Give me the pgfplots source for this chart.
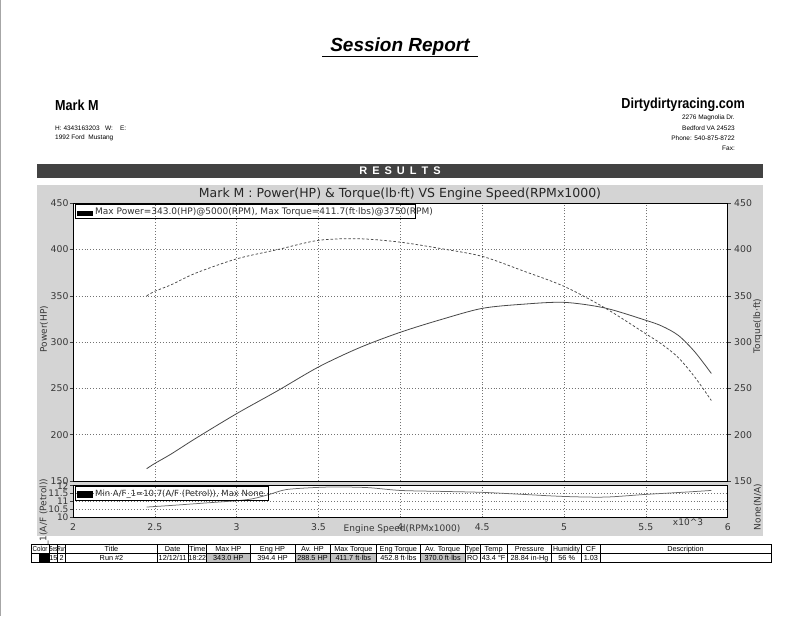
\documentclass[border=0pt]{standalone}
\usepackage{graphicx}
\usepackage{pgfplots}
\pgfplotsset{compat=1.18}
\usepackage{pgfplotstable}
\usepackage{fontspec}
\setmainfont{Liberation Sans}
\newfontfamily\dv{DejaVu Sans}
\newfontfamily\narrow[FakeStretch=0.87]{Liberation Sans}
\definecolor{panel}{RGB}{212,212,212}
\definecolor{resbar}{RGB}{66,66,66}
\definecolor{curve}{RGB}{72,72,72}
\definecolor{afcurve}{RGB}{105,105,105}
\definecolor{cellgray}{RGB}{192,192,192}
\definecolor{lab}{RGB}{55,55,55}

\pgfplotstableread{
rpm hp tq
2.45 163.3 350.0
2.50 169.0 355.0
2.60 179.2 362.0
2.75 196.1 374.6
3.00 222.8 390.0
3.25 247.5 400.0
3.50 273.2 410.0
3.75 294.0 411.7
4.00 310.7 408.0
4.25 324.5 401.0
4.50 336.5 392.7
4.75 341.0 377.0
5.00 343.0 360.3
5.25 336.9 337.0
5.50 323.6 309.0
5.60 317.2 297.5
5.70 307.1 283.0
5.80 289.3 262.0
5.90 266.2 237.0
}\dyno

\pgfplotstableread{
rpm af
2.45 10.65
2.60 10.75
2.80 10.90
3.00 11.05
3.10 11.18
3.20 11.45
3.30 11.75
3.45 11.87
3.60 11.92
3.80 11.88
4.00 11.70
4.25 11.64
4.50 11.58
4.75 11.45
5.00 11.32
5.25 11.28
5.50 11.45
5.75 11.60
5.90 11.70
}\afr

\pgfplotsset{dyno/.style={
  scale only axis, width=654.7pt, xmin=2, xmax=6,
  axis line style={black, line width=0.9pt},
  tick style={black!75, line width=0.5pt},
  tick align=outside, major tick length=3pt,
  major grid style={dash pattern=on 0.9pt off 2pt, black!55, line width=0.5pt},
  tick label style={font=\dv\fontsize{9.3}{9.5}\selectfont, text=lab},
  /pgf/number format/assume math mode=true,
}}

\begin{document}
\begin{tikzpicture}[x=1pt,y=-1pt]
\fill[white] (0,0) rectangle (800,616);
\draw[black!35, line width=0.8pt] (0.4,0) -- (0.4,616);
% header
\node[font=\fontsize{19}{19}\selectfont\bfseries\itshape] at (400,47) {Session Report};
\draw[line width=1.1pt] (322,56.5) -- (478,56.5);
\node[anchor=west, inner sep=0, font=\narrow\fontsize{14.5}{14.5}\selectfont\bfseries] at (55,105) {Mark M};
\node[anchor=west, inner sep=0, font=\fontsize{6.5}{6.5}\selectfont] at (55,128) {H:\ 4343163203\ \ \ W:\ \ \ \ E:};
\node[anchor=west, inner sep=0, font=\fontsize{6.5}{6.5}\selectfont] at (55,138) {1992 Ford\ \ Mustang};
\node[anchor=east, inner sep=0, font=\narrow\fontsize{14.5}{14.5}\selectfont\bfseries] at (745,105) {Dirtydirtyracing.com};
\node[anchor=east, inner sep=0, font=\fontsize{6.5}{6.5}\selectfont] at (735,118) {2276 Magnolia Dr.};
\node[anchor=east, inner sep=0, font=\fontsize{6.5}{6.5}\selectfont] at (735,128) {Bedford VA 24523};
\node[anchor=east, inner sep=0, font=\fontsize{6.5}{6.5}\selectfont] at (735,138) {Phone: 540-875-8722};
\node[anchor=east, inner sep=0, font=\fontsize{6.5}{6.5}\selectfont] at (735,148) {Fax:};
% results bar
\fill[resbar] (37,164) rectangle (763,178);
\node[white, font=\fontsize{11}{11}\selectfont\bfseries] at (400,171) {R\hspace{5pt}E\hspace{5pt}S\hspace{5pt}U\hspace{5pt}L\hspace{5pt}T\hspace{5pt}S};
% panel
\fill[panel] (37,185) rectangle (763,536);
\node[font=\dv\fontsize{12.5}{12.5}\selectfont, text=black!85] at (400,194) {Mark M : Power(HP) \& Torque(lb·ft) VS Engine Speed(RPMx1000)};

% main axis: power
\begin{axis}[dyno, at={(73pt,-481pt)}, anchor=south west, height=277.7pt,
  ymin=150, ymax=450, ytick={150,200,250,300,350,400,450},
  xtick={2,2.5,3,3.5,4,4.5,5,5.5,6}, xticklabels={}, xtick style={draw=none},
  ytick pos=left, yticklabel style={xshift=2pt},
  grid=major, axis background/.style={fill=white}]
\addplot[curve, line width=0.8pt, smooth] table[x=rpm,y=hp]{\dyno};
\end{axis}
% torque axis (right)
\begin{axis}[dyno, at={(73pt,-481pt)}, anchor=south west, height=277.7pt,
  ymin=150, ymax=450, ytick={150,200,250,300,350,400,450},
  axis x line=none, axis y line*=right]
\addplot[curve, line width=0.75pt, dash pattern=on 2.5pt off 2pt, smooth] table[x=rpm,y=tq]{\dyno};
\end{axis}
% A/F axis
\begin{axis}[dyno, at={(73pt,-517.3pt)}, anchor=south west, height=31.6pt,
  ymin=10, ymax=12, ytick={10,10.5,11,11.5,12}, yticklabels={10,10.5,11,11.5,12},
  ytick pos=left, yticklabel style={xshift=2pt, font=\dv\fontsize{9}{9}\selectfont},
  xtick={2,2.5,3,3.5,4,4.5,5,5.5,6}, xticklabels={2,2.5,3,3.5,4,4.5,5,5.5,6},
  xtick pos=bottom, xtick style={draw=none},
  grid=major, axis background/.style={fill=white}]
\addplot[afcurve, line width=0.75pt, smooth] table[x=rpm,y=af]{\afr};
\end{axis}

% legends
\draw[black, line width=0.6pt] (75,204) rectangle (415,218.3);
\fill[black] (76.5,210.5) rectangle (93,215.5);
\node[anchor=base west, inner sep=0, font=\dv\fontsize{9}{9}\selectfont, text=black!80] at (95,214.7) {Max Power=343.0(HP)@5000(RPM), Max Torque=411.7(ft·lbs)@3750(RPM)};
\draw[black, line width=0.6pt] (75,486) rectangle (268,500);
\fill[black] (76.5,491) rectangle (93,497.5);
\node[anchor=base west, inner sep=0, font=\dv\fontsize{8.5}{8.5}\selectfont, text=black!80] at (95,496.5) {Min A/F\_1=10.7(A/F (Petrol)), Max None};

% axis labels
\node[rotate=90, font=\dv\fontsize{9}{9}\selectfont, text=lab] at (44,329) {Power(HP)};
\node[rotate=90, font=\dv\fontsize{9}{9}\selectfont, text=lab] at (757.7,326) {Torque(lb·ft)};
\node[rotate=90, font=\dv\fontsize{9}{9}\selectfont, text=lab] at (757.7,507) {None(N/A)};
\node[rotate=90, anchor=west, inner sep=0, font=\dv\fontsize{9}{9}\selectfont, text=lab] at (44,546) {\_1(A/F (Petrol))};
\node[font=\dv\fontsize{9}{9}\selectfont, text=lab] at (402,529.5) {Engine Speed(RPMx1000)};
\node[font=\dv\fontsize{9}{9}\selectfont, text=lab] at (688,522.7) {x10\textasciicircum 3};

% results table
\fill[black] (38.5,553) rectangle (49.3,562);
\fill[cellgray] (206.7,553) rectangle (250,562);
\fill[cellgray] (295,553) rectangle (376.7,562);
\fill[cellgray] (420,553) rectangle (465.3,562);
\draw[line width=0.9pt] (31,544.5) rectangle (771,562);
\draw[line width=0.7pt] (31,553) -- (771,553);
\foreach \x in {49.3,57.7,65.7,157.3,188,206.7,250,295,330,376.7,420,465.3,480,507.3,551.7,581.7,600}
  \draw[line width=0.7pt] (\x,544.5) -- (\x,562);
\begin{scope}[font=\fontsize{7.3}{7.3}\selectfont, inner sep=0]
\foreach \a/\b/\t in {31/49.3/{\scalebox{0.85}[1]{Color}},49.3/57.7/{\scalebox{0.6}[1]{Ses}},57.7/65.7/{\scalebox{0.6}[1]{Run}},65.7/157.3/Title,157.3/188/Date,188/206.7/Time,206.7/250/Max HP,250/295/Eng HP,295/330/Av. HP,330/376.7/Max Torque,376.7/420/Eng Torque,420/465.3/Av. Torque,465.3/480/{\scalebox{0.85}[1]{Type}},480/507.3/Temp,507.3/551.7/Pressure,551.7/581.7/{\scalebox{0.95}[1]{Humidity}},581.7/600/CF,600/771/Description}
  \node[anchor=base] at ({(\a+\b)/2},551.5) {\t};
\foreach \a/\b/\t in {49.3/57.7/15,57.7/65.7/2,65.7/157.3/{Run \#2},157.3/188/{12/12/11},188/206.7/{\scalebox{0.95}[1]{18:22}},206.7/250/{343.0 HP},250/295/{394.4 HP},295/330/{288.5 HP},330/376.7/{411.7 ft·lbs},376.7/420/{452.8 ft·lbs},420/465.3/{370.0 ft·lbs},465.3/480/RO,480/507.3/{43.4 °F},507.3/551.7/{28.84 in-Hg},551.7/581.7/{56 \%},581.7/600/1.03}
  \node[anchor=base] at ({(\a+\b)/2},560.2) {\t};
\end{scope}

\pgfresetboundingbox
\path (0,0) rectangle (800,616);
\end{tikzpicture}
\end{document}
